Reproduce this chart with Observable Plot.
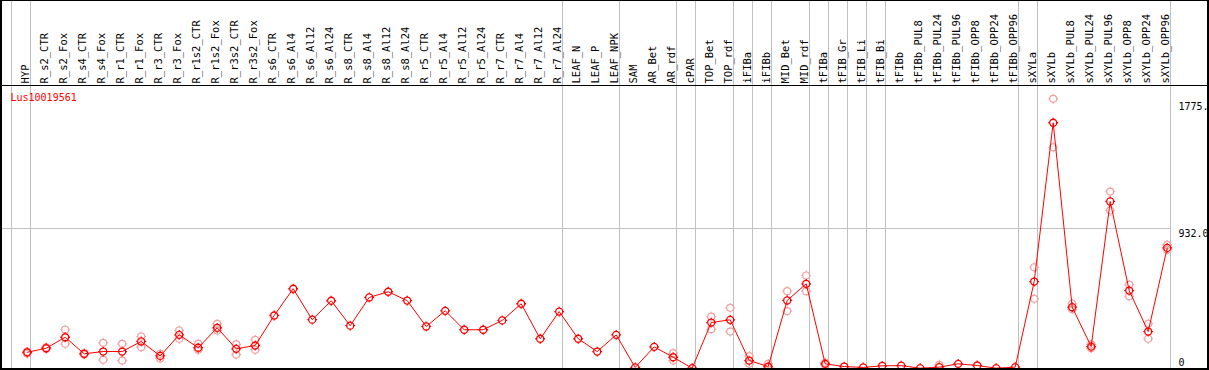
<!DOCTYPE html>
<html>
<head>
<meta charset="utf-8">
<script src="https://cdn.jsdelivr.net/npm/d3@7"></script>
<script src="https://cdn.jsdelivr.net/npm/@observablehq/plot@0.6"></script>
<style>
  html, body { margin: 0; padding: 0; background: #fff; }
  #wrap { position: relative; width: 1209px; height: 370px; overflow: hidden; }
  #wrap svg { display: block; }
  #frame { position: absolute; left: 0; top: 0; width: 1209px; height: 370px; box-sizing: border-box;
           border-top: 1px solid #000; border-left: 2px solid #000; border-right: 2px solid #000; border-bottom: 2px solid #000; pointer-events: none; }
  #head { position: absolute; left: 0; top: 0; width: 1209px; height: 86px; box-sizing: border-box;
          border-bottom: 1px solid #000; pointer-events: none; }
</style>
</head>
<body>
<div id="wrap"><div id="head"></div><div id="frame"></div></div>
<script>
const geneName = ["Lus10019561"];

const categories = [
  "HYP","R_s2_CTR","R_s2_Fox","R_s4_CTR","R_s4_Fox","R_r1_CTR","R_r1_Fox","R_r3_CTR","R_r3_Fox",
  "R_r1s2_CTR","R_r1s2_Fox","R_r3s2_CTR","R_r3s2_Fox","R_s6_CTR","R_s6_Al4","R_s6_Al12","R_s6_Al24",
  "R_s8_CTR","R_s8_Al4","R_s8_Al12","R_s8_Al24","R_r5_CTR","R_r5_Al4","R_r5_Al12","R_r5_Al24",
  "R_r7_CTR","R_r7_Al4","R_r7_Al12","R_r7_Al24","LEAF_N","LEAF_P","LEAF_NPK","SAM","AR_Bet","AR_rdf",
  "cPAR","TOP_Bet","TOP_rdf","iFIBa","iFIBb","MID_Bet","MID_rdf","tFIBa","tFIB_Gr","tFIB_Li","tFIB_Bi",
  "tFIBb","tFIBb_PUL8","tFIBb_PUL24","tFIBb_PUL96","tFIBb_OPP8","tFIBb_OPP24","tFIBb_OPP96",
  "sXYLa","sXYLb","sXYLb_PUL8","sXYLb_PUL24","sXYLb_PUL96","sXYLb_OPP8","sXYLb_OPP24","sXYLb_OPP96"
];

const meanValues = [
  108,135,208,98,113,113,180,84,224,
  138,271,131,153,353,531,325,451,
  285,473,511,452,280,384,258,258,
  320,431,198,379,198,113,224,7,144,75,
  2,306,324,53,13,453,564,31,13,7,18,
  19,2,9,31,20,2,9,
  579,1636,408,146,1112,519,246,803
];

const repHigh = [
  112,140,258,102,171,164,213,98,253,
  164,297,160,191,null,null,null,null,
  null,null,null,null,null,null,null,null,
  null,null,null,null,null,null,null,null,null,102,
  null,346,404,82,31,515,619,40,null,null,null,
  null,null,25,null,null,null,null,
  674,1795,431,160,1178,559,298,823
];

const repLow = [
  100,130,164,94,58,53,142,67,198,
  124,253,93,124,null,null,null,null,
  null,null,null,null,null,null,null,null,
  null,null,null,null,null,null,null,null,null,53,
  null,262,246,31,5,382,515,24,null,null,null,
  null,null,null,null,null,null,null,
  464,1473,395,135,1052,481,198,790
];

const groupStarts = ["HYP","R_s2_CTR","LEAF_N","SAM","cPAR","TOP_Bet","iFIBa","iFIBb","MID_Bet",
  "tFIBa","tFIB_Gr","tFIB_Li","tFIB_Bi","tFIBb","sXYLa","sXYLb"];
const lastCategory = ["sXYLb_OPP96"];

const yTickValues = [1775, 932, 0];
const yTickLabels = ["1775.", "932.0", "0"];
const gridValues = [932];

const means = categories.map((c, i) => ({cat: c, v: meanValues[i]}));
const reps = categories.flatMap((c, i) => [
  {cat: c, v: repHigh[i]}, {cat: c, v: repLow[i]}
]).filter(d => d.v != null);
const yTicks = yTickValues.map((v, i) => ({v, label: yTickLabels[i]}));

const gear = {
  draw(ctx, size) {
    const r = Math.sqrt(size / Math.PI);
    const t = r * 1.4;
    ctx.moveTo(r, 0);
    ctx.arc(0, 0, r, 0, 2 * Math.PI);
    ctx.moveTo(0, -r); ctx.lineTo(0, -t);
    ctx.moveTo(0, r); ctx.lineTo(0, t);
    ctx.moveTo(-r, 0); ctx.lineTo(-t, 0);
    ctx.moveTo(r, 0); ctx.lineTo(t, 0);
  }
};

const chart = Plot.plot({
  width: 1209,
  height: 370,
  marginTop: 85,
  marginBottom: 2,
  marginLeft: 0,
  marginRight: 39,
  style: {fontFamily: "'DejaVu Sans Mono', monospace", fontSize: "10px", background: "#fff", color: "#000"},
  x: {type: "point", domain: categories, range: [26.7, 1166.7], padding: 0, round: false, axis: null},
  y: {type: "linear", domain: [0, 1884], range: [368, 85], axis: null},
  marks: [
    Plot.ruleY(gridValues, {y: d => d, stroke: "#c0c0c0", strokeWidth: 1}),
    Plot.ruleX(groupStarts, {x: d => d, dx: -15.7, stroke: "#c0c0c0", strokeWidth: 1, insetTop: -85, insetBottom: -2}),
    Plot.ruleX(lastCategory, {x: d => d, dx: 3.3, stroke: "#c0c0c0", strokeWidth: 1, insetTop: -85, insetBottom: -2}),
    Plot.text(categories, {x: d => d, text: d => d, frameAnchor: "top", dy: -2, dx: -1.7, rotate: -90,
      textAnchor: "start", lineAnchor: "middle", fill: "#000", fontSize: 10.5}),
    Plot.text(geneName, {text: d => d, frameAnchor: "top-left", dx: 10, dy: 12, textAnchor: "start",
      lineAnchor: "middle", fill: "#ff0000"}),
    Plot.text(yTicks.filter(d => d.v > 0), {y: "v", text: "label", frameAnchor: "right", dx: 8, dy: 1,
      textAnchor: "start", lineAnchor: "top", fill: "#000"}),
    Plot.text(yTicks.filter(d => d.v === 0), {y: "v", text: "label", frameAnchor: "right", dx: 8, dy: -3,
      textAnchor: "start", lineAnchor: "bottom", fill: "#000"}),
    Plot.dot(reps, {x: "cat", y: "v", r: 3.5, symbol: gear, stroke: "#f0a0a0", fill: "none", strokeWidth: 1.2}),
    Plot.line(means, {x: "cat", y: "v", stroke: "#ff0000", strokeWidth: 1}),
    Plot.dot(means, {x: "cat", y: "v", r: 3.5, symbol: gear, stroke: "#ff0000", fill: "none", strokeWidth: 1.3})
  ]
});

document.getElementById("wrap").prepend(chart);
</script>
</body>
</html>
